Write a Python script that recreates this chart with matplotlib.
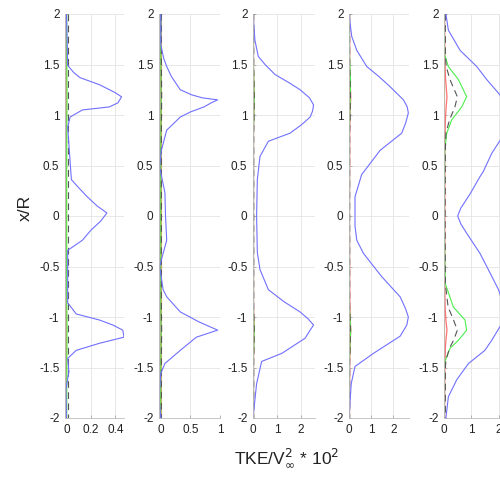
import matplotlib
matplotlib.use('Agg')
import matplotlib.pyplot as plt

plt.rcParams['font.family'] = ['Liberation Sans', 'DejaVu Sans']

# blue curves (x/R, TKE) for each station
blue_y = [
    [2.0, 1.76, 1.49, 1.42, 1.37, 1.30, 1.22, 1.18, 1.12, 1.08, 1.05, 0.98, 0.88, 0.36, 0.28, 0.19,
     0.10, 0.03, -0.05, -0.14, -0.24, -0.34, -0.86, -0.97, -1.03, -1.08, -1.13, -1.20, -1.26, -1.33,
     -1.41, -1.54, -1.72, -2.0],
    [2.0, 1.7, 1.64, 1.56, 1.48, 1.38, 1.25, 1.20, 1.17, 1.15, 1.12, 1.08, 1.03, 0.98, 0.85, 0.65,
     0.49, 0.23, 0.0, -0.24, -0.5, -0.73, -0.8, -0.95, -1.05, -1.13, -1.20, -1.33, -1.46, -1.56,
     -1.8, -2.0],
    [2.0, 1.74, 1.58, 1.50, 1.40, 1.32, 1.25, 1.17, 1.10, 1.04, 0.98, 0.90, 0.82, 0.74, 0.59, 0.36,
     0.0, -0.36, -0.53, -0.73, -0.85, -0.95, -1.02, -1.08, -1.14, -1.21, -1.36, -1.44, -1.66, -2.0],
    [2.0, 1.78, 1.64, 1.48, 1.38, 1.28, 1.15, 1.08, 1.02, 0.92, 0.82, 0.65, 0.41, 0.19, -0.1,
     -0.24, -0.37, -0.6, -0.8, -0.92, -1.0, -1.08, -1.19, -1.36, -1.49, -1.66, -2.0],
    [2.0, 1.84, 1.64, 1.48, 1.35, 1.20, 1.05, 0.90, 0.75, 0.62, 0.44, 0.39, 0.22, 0.08, 0.0,
     -0.08, -0.17, -0.37, -0.57, -0.73, -0.88, -1.03, -1.23, -1.33, -1.46, -1.62, -1.79, -2.0],
]
blue_v = [
    [0.0, 0.005, 0.01, 0.06, 0.11, 0.27, 0.40, 0.45, 0.42, 0.35, 0.13, 0.03, 0.01, 0.04, 0.10, 0.17,
     0.25, 0.33, 0.28, 0.20, 0.13, 0.01, 0.01, 0.08, 0.27, 0.38, 0.46, 0.47, 0.27, 0.08,
     0.01, 0.02, -0.005, 0.0],
    [0.0, 0.0, 0.02, 0.05, 0.10, 0.18, 0.33, 0.52, 0.70, 0.96, 0.85, 0.73, 0.50, 0.33, 0.10, 0.01,
     -0.02, 0.07, 0.08, 0.10, -0.02, 0.04, 0.10, 0.33, 0.65, 0.96, 0.60, 0.33, 0.07, 0.0,
     -0.03, 0.0],
    [0.0, 0.08, 0.22, 0.50, 0.92, 1.50, 1.96, 2.35, 2.52, 2.48, 2.38, 2.00, 1.54, 0.64, 0.29, 0.18,
     0.15, 0.18, 0.29, 0.64, 1.30, 1.96, 2.30, 2.52, 2.35, 2.17, 1.20, 0.36, 0.15, 0.0],
    [0.0, 0.12, 0.35, 0.80, 1.35, 1.85, 2.45, 2.62, 2.67, 2.55, 2.37, 1.40, 0.57, 0.27, 0.27,
     0.35, 0.65, 1.47, 2.30, 2.55, 2.67, 2.60, 2.30, 1.10, 0.27, 0.10, 0.0],
    [0.07, 0.16, 0.59, 1.20, 1.57, 2.05, 2.25, 2.18, 2.06, 1.75, 1.44, 1.32, 0.96, 0.62, 0.50,
     0.62, 0.83, 1.32, 1.70, 2.00, 2.18, 2.20, 1.75, 1.50, 0.90, 0.47, 0.16, 0.07],
]

# small-valued lines, on a shared x/R grid
small_y = [2.0, 1.6, 1.48, 1.35, 1.18, 1.08, 0.95, 0.82, 0.65, 0.0, -0.67, -0.9, -1.03, -1.13,
           -1.23, -1.31, -1.43, -1.5, -2.0]
red_v = [
    [-0.004, -0.003, -0.004, -0.004, -0.005, -0.004, -0.004, -0.003, -0.004, -0.004, -0.003, -0.004,
     -0.004, -0.005, -0.004, -0.004, -0.003, -0.003, -0.004],
    [0.0, 0.0, 0.002, 0.005, 0.01, 0.008, 0.005, 0.002, 0.0, 0.0, 0.0, 0.002, 0.006, 0.01,
     0.006, 0.004, 0.002, 0.0, 0.0],
    [0.02, 0.02, 0.02, 0.03, 0.05, 0.04, 0.03, 0.02, 0.02, 0.02, 0.02, 0.02, 0.04, 0.05,
     0.04, 0.03, 0.02, 0.02, 0.02],
    [0.02, 0.03, 0.03, 0.05, 0.08, 0.06, 0.04, 0.03, 0.03, 0.02, 0.03, 0.04, 0.06, 0.08,
     0.06, 0.05, 0.03, 0.03, 0.02],
    [0.02, 0.03, 0.04, 0.06, 0.11, 0.08, 0.05, 0.04, 0.03, 0.03, 0.03, 0.04, 0.07, 0.11,
     0.07, 0.05, 0.04, 0.03, 0.02],
]
green_v = [
    [0.002, 0.003, 0.003, 0.004, 0.005, 0.004, 0.003, 0.003, 0.002, 0.002, 0.002, 0.003, 0.004,
     0.005, 0.004, 0.004, 0.003, 0.003, 0.002],
    [0.0, 0.0, 0.002, 0.004, 0.008, 0.006, 0.004, 0.002, 0.0, 0.0, 0.0, 0.002, 0.005, 0.008,
     0.005, 0.004, 0.002, 0.0, 0.0],
    [0.0, 0.01, 0.02, 0.03, 0.05, 0.04, 0.03, 0.01, 0.0, 0.0, 0.0, 0.01, 0.03, 0.05,
     0.04, 0.03, 0.01, 0.0, 0.0],
    [0.0, 0.02, 0.04, 0.07, 0.06, 0.04, 0.03, 0.01, 0.0, 0.0, 0.0, 0.02, 0.05, 0.08,
     0.05, 0.04, 0.02, 0.0, 0.0],
    [0.0, 0.02, 0.16, 0.53, 0.83, 0.65, 0.28, 0.10, 0.03, 0.0, 0.05, 0.34, 0.77, 0.83,
     0.53, 0.22, 0.05, 0.0, 0.0],
]
dash_v = [
    [0.012] * 19,
    [0.01, 0.01, 0.01, 0.012, 0.015, 0.013, 0.012, 0.01, 0.01, 0.01, 0.01, 0.01, 0.012, 0.015,
     0.013, 0.012, 0.01, 0.01, 0.01],
    [0.03, 0.03, 0.03, 0.04, 0.05, 0.045, 0.04, 0.03, 0.03, 0.03, 0.03, 0.03, 0.04, 0.05,
     0.045, 0.04, 0.03, 0.03, 0.03],
    [0.03, 0.03, 0.03, 0.05, 0.06, 0.055, 0.05, 0.03, 0.03, 0.03, 0.03, 0.03, 0.05, 0.06,
     0.055, 0.05, 0.03, 0.03, 0.03],
    [0.05, 0.05, 0.08, 0.22, 0.49, 0.40, 0.20, 0.07, 0.05, 0.04, 0.05, 0.15, 0.35, 0.49,
     0.35, 0.20, 0.07, 0.05, 0.05],
]
orange_v = [
    [0.0] * 19,
    [0.0] * 19,
    [0.01] * 19,
    [0.01] * 19,
    [0.01] * 19,
]
grey_v = [-0.009, -0.02, 0.0, 0.0, 0.0]

xlims = [(-0.012, 0.47), (-0.03, 1.0), (0.0, 2.58), (0.0, 2.7), (0.0, 2.2)]
xticks = [[0, 0.2, 0.4], [0, 0.5, 1], [0, 1, 2], [0, 1, 2], [0, 1, 2]]
xticklabels = [['0', '0.2', '0.4'], ['0', '0.5', '1'], ['0', '1', '2'], ['0', '1', '2'], ['0', '1', '2']]
yticks = [-2, -1.5, -1, -0.5, 0, 0.5, 1, 1.5, 2]
yticklabels = ['-2', '-1.5', '-1', '-0.5', '0', '0.5', '1', '1.5', '2']

lefts = [65, 159, 253, 349, 444]
widths = [59, 61, 62, 60, 60]

fig = plt.figure(figsize=(5.0, 4.79), dpi=100)

for i in range(5):
    ax = fig.add_axes([lefts[i] / 500, 61 / 479, widths[i] / 500, 404 / 479])
    ax.plot([grey_v[i]] * 2, [-2, 2], color='#b8b8b8', lw=1.6)
    ax.plot(orange_v[i], small_y, color='#e8b060', lw=0.8)
    ax.plot(red_v[i], small_y, color='#ff7474', lw=0.9)
    ax.plot(green_v[i], small_y, color='#4cee4c', lw=0.8)
    ax.plot(dash_v[i], small_y, color='#555555', lw=0.8, ls=(0, (6, 4)))
    ax.plot(blue_v[i], blue_y[i], color='#7070ff', lw=0.8)
    ax.set_xlim(*xlims[i])
    ax.set_ylim(-2, 2)
    ax.set_xticks(xticks[i])
    ax.set_xticklabels(xticklabels[i])
    ax.set_yticks(yticks)
    ax.set_yticklabels(yticklabels)
    ax.grid(True, color='#e4e4e4', lw=0.6)
    ax.set_axisbelow(True)
    for s in ['top', 'right']:
        ax.spines[s].set_visible(False)
    for s in ['left', 'bottom']:
        ax.spines[s].set_color('#bdbdbd')
        ax.spines[s].set_linewidth(0.6)
    ax.tick_params(direction='in', length=2.5, width=0.5, color='#999999',
                   labelsize=8.5, labelcolor='#222222', pad=4)

fig.text(287 / 500, 21 / 479, r'TKE/V$_\infty^2$ * 10$^2$', ha='center', va='center',
         fontsize=12.5, color='#222222')
fig.text(25 / 500, 0.565, 'x/R', rotation=90, ha='center', va='center',
         fontsize=12.5, color='#222222')

fig.savefig('out.png', dpi=100)
